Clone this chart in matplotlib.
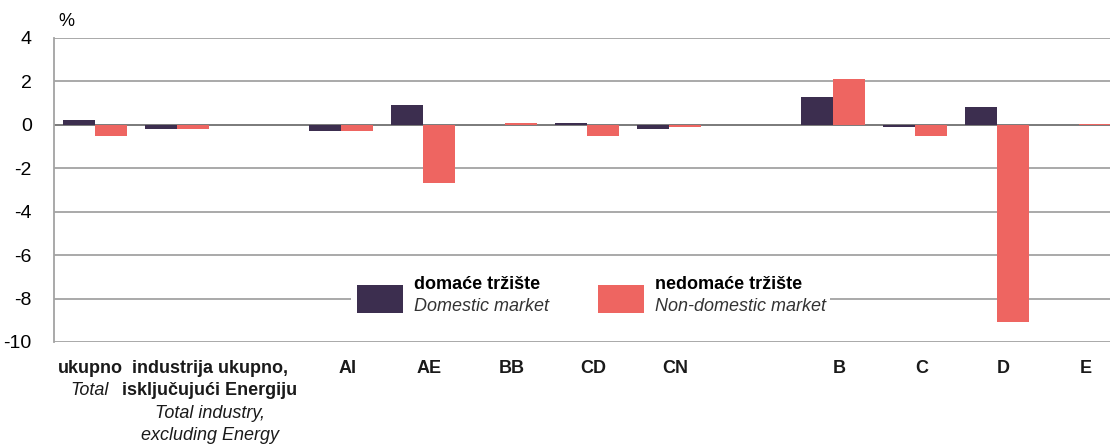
"""Domestic vs non-domestic market changes by industry group (bar chart)."""

import matplotlib

matplotlib.use("Agg")
import matplotlib.pyplot as plt
from matplotlib import font_manager
from matplotlib.patches import Rectangle

# data (slot order; None marks the empty gaps between groups)
codes = ["ukupno", "industrija", None, "AI", "AE", "BB", "CD", "CN", None, "B", "C", "D", "E"]
label_hr = [
    ["ukupno"],
    ["industrija ukupno,", "isključujući Energiju"],
    None,
    ["AI"], ["AE"], ["BB"], ["CD"], ["CN"],
    None,
    ["B"], ["C"], ["D"], ["E"],
]
label_en = [
    ["Total"],
    ["Total industry,", "excluding Energy"],
    None,
    [], [], [], [], [],
    None,
    [], [], [], [],
]
domestic = [0.2, -0.2, None, -0.3, 0.9, 0.0, 0.1, -0.2, None, 1.3, -0.1, 0.8, 0.0]
non_domestic = [-0.5, -0.2, None, -0.3, -2.7, 0.1, -0.5, -0.1, None, 2.1, -0.5, -9.1, 0.05]
y_ticks = [4, 2, 0, -2, -4, -6, -8, -10]

DARK = "#3c2e4f"
RED = "#ee6561"
GRID = "#a3a3a3"

names = {f.name for f in font_manager.fontManager.ttflist}
font = "Liberation Sans Narrow" if "Liberation Sans Narrow" in names else "Liberation Sans"
plt.rcParams["font.family"] = [font, "DejaVu Sans"]

fig = plt.figure(figsize=(11.1, 4.47), dpi=100)
ax = fig.add_axes([0.0486, 0.235, 0.9514, 0.68])

w = 0.39
for i, (d, n) in enumerate(zip(domestic, non_domestic)):
    if d is None:
        continue
    ax.bar(i - w / 2, d, width=w, color=DARK, zorder=3)
    ax.bar(i + w / 2, n, width=w, color=RED, zorder=3)

ax.set_xlim(-0.5, 12.38)
ax.set_ylim(-10, 4)
ax.set_yticks(y_ticks)
ax.set_yticklabels([str(t) for t in y_ticks], fontsize=14)
ax.set_xticks([])
ax.tick_params(axis="y", length=0, pad=16)
for t in y_ticks:
    ax.axhline(t, color="#6f6f6f" if t == 0 else GRID, lw=1.3, zorder=1)
for s in ("top", "right", "bottom"):
    ax.spines[s].set_visible(False)
ax.spines["left"].set_color(GRID)
ax.spines["left"].set_linewidth(1.3)

fig.text(0.053, 0.953, "%", fontsize=13, ha="left", va="center")

# category labels under the axis
tr = ax.get_xaxis_transform()
step = 0.074
for i, (hr, en) in enumerate(zip(label_hr, label_en)):
    if hr is None:
        continue
    x = {0: -0.06, 1: 1.4}.get(i, i + 0.08)
    y = -0.087
    for line in hr:
        ax.text(x, y, line, transform=tr, ha="center", va="center",
                fontsize=13, fontweight="bold", color="#1a1a1a", clip_on=False)
        y -= step
    for line in en:
        ax.text(x, y, line, transform=tr, ha="center", va="center",
                fontsize=13, fontstyle="italic", color="#1a1a1a", clip_on=False)
        y -= step

# legend drawn by hand on a white panel
axt = ax.transAxes
ax.add_patch(Rectangle((0.281, 0.03), 0.454, 0.25, transform=axt,
                       facecolor="white", edgecolor="none", zorder=4))
entries = [(0.287, DARK, "domaće tržište", "Domestic market"),
           (0.515, RED, "nedomaće tržište", "Non-domestic market")]
for x0, c, top, bottom in entries:
    ax.add_patch(Rectangle((x0, 0.095), 0.044, 0.092, transform=axt,
                           facecolor=c, edgecolor="none", zorder=5))
    ax.text(x0 + 0.054, 0.19, top, transform=axt, fontsize=13, fontweight="bold",
            va="center", ha="left", zorder=6)
    ax.text(x0 + 0.054, 0.115, bottom, transform=axt, fontsize=13, fontstyle="italic",
            va="center", ha="left", color="#333333", zorder=6)

fig.savefig("out.png", facecolor="white")
